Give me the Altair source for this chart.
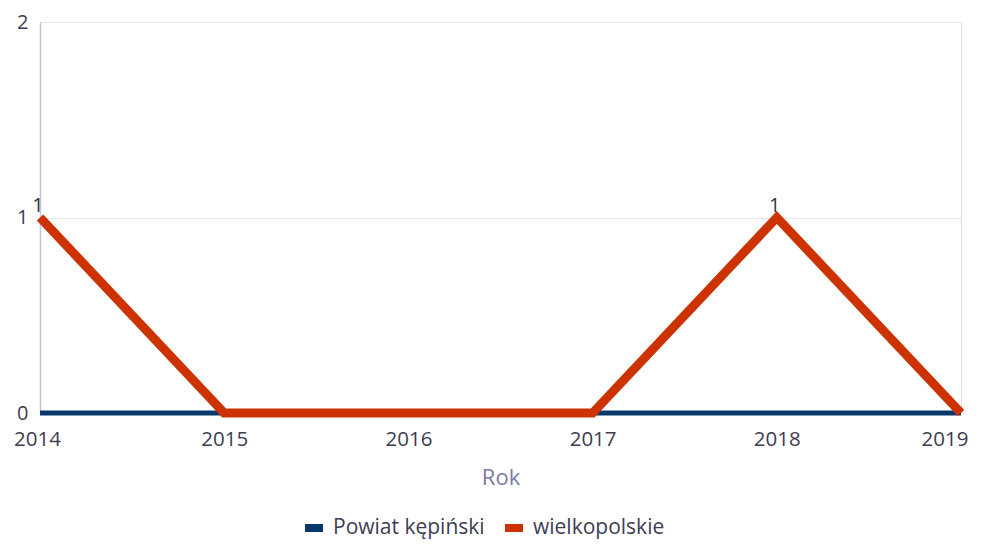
import altair as alt
import pandas as pd

years = [2014, 2015, 2016, 2017, 2018, 2019]
series_names = ["Powiat kępiński", "wielkopolskie"]
powiat = [0, 0, 0, 0, 0, 0]
wielkopolskie = [1, 0, 0, 0, 1, 0]
colors = ["#0b386b", "#cc3300"]
y_ticks = [0, 1, 2]

rows = []
for y, v in zip(years, powiat):
    rows.append({"Rok": y, "seria": series_names[0], "wartosc": v})
for y, v in zip(years, wielkopolskie):
    rows.append({"Rok": y, "seria": series_names[1], "wartosc": v})
df = pd.DataFrame(rows)

FONT = "Open Sans"
TXT = "#3d3d52"

x = alt.X("Rok:Q", scale=alt.Scale(domain=[years[0], years[-1]], nice=False, zero=False),
          axis=alt.Axis(values=years, format="d", ticks=False, domain=False, grid=False,
                        labelFlush=False, labelFontSize=20.5, labelColor=TXT, labelFont=FONT,
                        labelPadding=16, labelBound=False,
                        labelAlign=alt.ExprRef(expr="datum.value == 2019 ? 'right' : 'center'"),
                        labelOffset=alt.ExprRef(expr="datum.value == 2019 ? 7 : (datum.value == 2014 ? -3 : 0)"),
                        title="Rok", titleFontSize=22, titleColor="#7b7ba6", titleFont=FONT,
                        titleFontWeight="normal", titlePadding=18))
y = alt.Y("wartosc:Q", scale=alt.Scale(domain=[y_ticks[0], y_ticks[-1]], nice=False, zero=True),
          axis=alt.Axis(tickCount=2, format="d", ticks=False, domain=True,
                        domainColor="#c4c4d8", labelOverlap=False, labelFlush=False,
                        domainWidth=1.5, grid=True, gridColor="#e6e6e6", labelFontSize=20,
                        labelColor=TXT, labelFont=FONT, labelPadding=12, title=None))

color = alt.Color("seria:N", scale=alt.Scale(domain=series_names, range=colors),
                  legend=alt.Legend(orient="none", legendX=261, legendY=493, direction="horizontal",
                                    title=None, labelFontSize=21, labelColor=TXT, labelFont=FONT,
                                    symbolType="stroke", symbolSize=324, symbolStrokeWidth=8,
                                    columnPadding=4, labelOffset=6))

blue = alt.Chart(df[df.seria == series_names[0]]).mark_line(strokeWidth=5, strokeCap="butt").encode(
    x=x, y=y, color=color)
red = alt.Chart(df[df.seria == series_names[1]]).mark_line(strokeWidth=9, strokeCap="butt").encode(
    x=x, y=y, color=color)
labels = alt.Chart(df[(df.seria == series_names[1]) & (df.wartosc > 0)]).mark_text(
    baseline="bottom", dy=-2, dx=-2, fontSize=20, font=FONT, color="#333333").encode(
    x=x, y=y, text=alt.Text("wartosc:Q", format="d"))

chart = alt.layer(blue, red, labels).properties(
    width=921, height=391,
    autosize=alt.AutoSizeParams(type="none"),
    padding={"left": 32, "top": 14, "right": 15, "bottom": 126},
).configure_view(strokeWidth=0).configure(background="white")

chart.save("out.html", embed_options={"renderer": "svg", "actions": False})
